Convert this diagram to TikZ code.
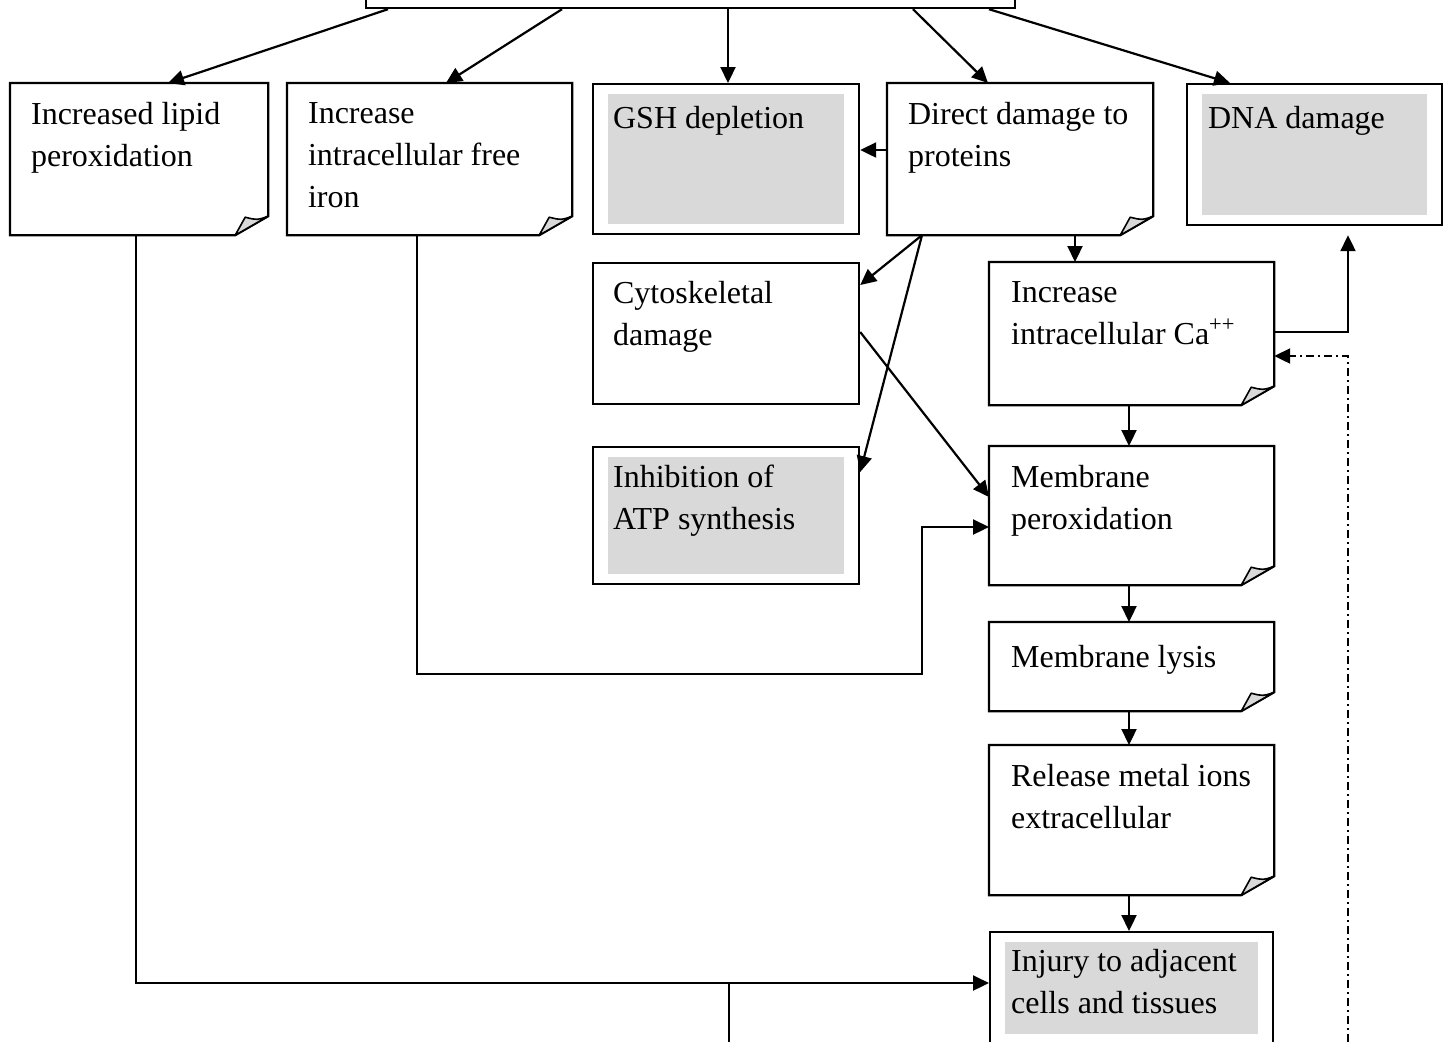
\documentclass[tikz,border=0pt]{standalone}
\usepackage{fontspec}
\setmainfont{Liberation Serif}
\usetikzlibrary{arrows.meta,calc}
\definecolor{greyfill}{gray}{0.85}
% folded corner box outline
\newcommand\dogear[1]{%
  \draw (#1.north west) -- (#1.north east) -- ($(#1.south east)+(0,-19)$)
    -- ($(#1.south east)+(-33,0)$) -- (#1.south west) -- cycle;
  \filldraw[fill=greyfill,line width=0.8pt,line join=round]
    ($(#1.south east)+(-33,0)$) -- ($(#1.south east)+(-23,-18)$)
    .. controls ($(#1.south east)+(-11,-15)$) .. ($(#1.south east)+(0,-19)$) -- cycle;}
\newcommand\greyin[1]{%
  \fill[greyfill] ($(#1.north west)+(16,11)$) rectangle ($(#1.south east)+(-16,-11)$);}
\begin{document}
\begin{tikzpicture}[x=0.5pt,y=-0.5pt,line width=1.1pt,
    box/.style 2 args={anchor=north west,inner sep=0pt,minimum width=#1*0.5pt,minimum height=#2*0.5pt},
    lbl/.style={anchor=north west,inner sep=0pt,align=left,font=\fontsize{16}{21}\selectfont,
      execute at begin node={\rule{0pt}{13pt}}},
    arr/.style={-{Triangle[length=8pt,width=7.5pt]}},
    dashdot/.style={dash pattern=on 4pt off 2pt on 1pt off 2pt}]
  \useasboundingbox (0,0) rectangle (1451,1041);

  \node[box={649}{80},draw] (top) at (365,-73) {};
  \node[box={256}{150}] (lipid) at (10,83) {};
  \node[box={283}{150}] (iron) at (287,83) {};
  \node[box={266}{150},draw] (gsh) at (592,83) {};
  \node[box={264}{150}] (protein) at (887,83) {};
  \node[box={255}{141},draw] (dna) at (1186,83) {};
  \node[box={266}{141},draw] (cyto) at (592,262) {};
  \node[box={283}{141}] (calc) at (989,262) {};
  \node[box={266}{137},draw] (atp) at (592,446) {};
  \node[box={283}{137}] (mperox) at (989,446) {};
  \node[box={283}{87}] (lysis) at (989,622) {};
  \node[box={283}{148}] (release) at (989,745) {};
  \node[box={283}{112},draw] (injury) at (989,931) {};

  \foreach \n in {lipid,iron,protein,calc,mperox,lysis,release}
    \dogear{\n};
  \foreach \n in {gsh,dna,atp,injury}
    \greyin{\n};

  \node[lbl] (lipid-t) at ($(lipid.north west)+(20,18)$) {Increased lipid\\peroxidation};
  \node[lbl] (iron-t) at ($(iron.north west)+(20,18)$) {Increase\\intracellular free\\iron};
  \node[lbl] (gsh-t) at ($(gsh.north west)+(20,18)$) {GSH depletion};
  \node[lbl] (protein-t) at ($(protein.north west)+(20,18)$) {Direct damage to\\proteins};
  \node[lbl] (dna-t) at ($(dna.north west)+(21,18)$) {DNA damage};
  \node[lbl] (cyto-t) at ($(cyto.north west)+(20,18)$) {Cytoskeletal\\damage};
  \node[lbl] (calc-t) at ($(calc.north west)+(21,18)$) {Increase\\intracellular Ca\textsuperscript{++}};
  \node[lbl] (atp-t) at ($(atp.north west)+(20,18)$) {Inhibition of\\ATP synthesis};
  \node[lbl] (mperox-t) at ($(mperox.north west)+(21,18)$) {Membrane\\peroxidation};
  \node[lbl] (lysis-t) at ($(lysis.north west)+(21,18)$) {Membrane lysis};
  \node[lbl] (release-t) at ($(release.north west)+(21,18)$) {Release metal ions\\extracellular};
  \node[lbl] (injury-t) at ($(injury.north west)+(21,17)$) {Injury to adjacent\\cells and tissues};

  % from the top box
  \draw[arr] ($(top.south west)+(23,0)$) -- ($(lipid.north west)+(158,0)$);
  \draw[arr] ($(top.south west)+(197,0)$) -- ($(iron.north west)+(159,0)$);
  \draw[arr] ($(top.south west)+(363,0)$) -- ($(gsh.north west)+(136,0)$);
  \draw[arr] ($(top.south west)+(548,0)$) -- ($(protein.north west)+(101,0)$);
  \draw[arr] ($(top.south west)+(624,0)$) -- ($(dna.north west)+(44,0)$);

  % proteins
  \draw[arr] ($(protein.north west)+(0,67)$) -- ($(gsh.north east)+(0,67)$);
  \coordinate (fork) at ($(protein.south west)+(35,0)$);
  \draw[arr] (fork) -- ($(cyto.north east)+(0,23)$);
  \draw[arr] (fork) -- ($(atp.north east)+(0,26)$);
  \draw[arr] ($(protein.south west)+(188,0)$) -- ($(calc.north west)+(86,0)$);
  \draw[arr] ($(cyto.north east)+(0,70)$) -- ($(mperox.north west)+(0,51)$);
  \draw[arr] ($(iron.south west)+(130,0)$) -- ++(0,439)
    -| ($(mperox.north west)+(-67,81)$) -- ($(mperox.north west)+(0,81)$);

  % main chain
  \foreach \a/\b in {calc/mperox,mperox/lysis,lysis/release,release/injury}
    \draw[arr] ($(\a.south west)+(140,0)$) -- ($(\b.north west)+(140,0)$);

  \coordinate (injin) at ($(injury.north west)+(0,52)$);
  \draw[arr] ($(lipid.south west)+(126,0)$) |- (injin);
  \coordinate (drop) at (729,1060);
  \draw (drop) -- (drop |- injin);

  \draw[arr] ($(calc.north east)+(0,70)$) -| ($(dna.south west)+(162,9)$);
  \coordinate (loop) at (1348,1060);
  \draw[arr,dashdot] (loop) |- ($(calc.north east)+(0,94)$);
\end{tikzpicture}
\end{document}
